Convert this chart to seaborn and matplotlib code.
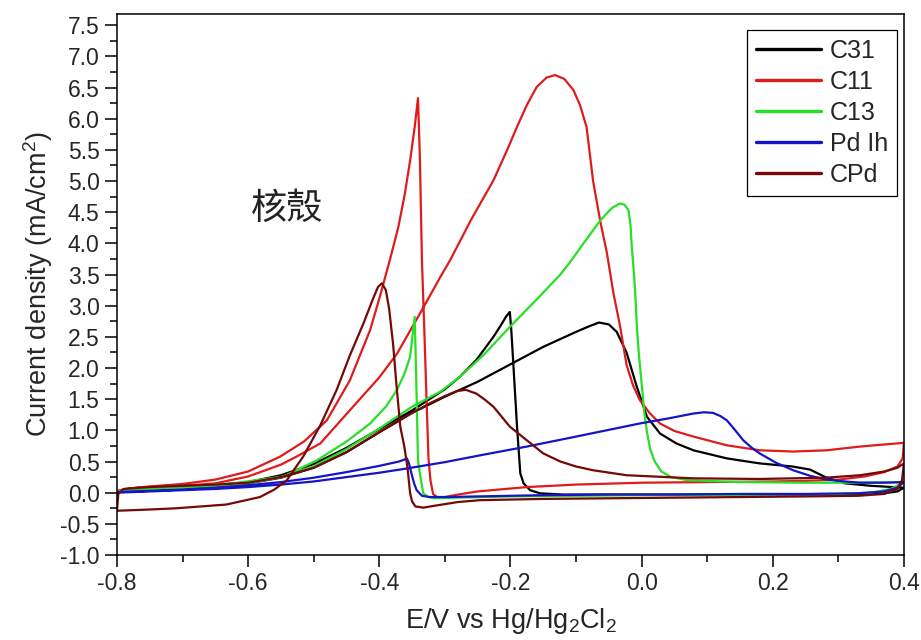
import numpy as np
import pandas as pd
import matplotlib
matplotlib.use('Agg')
import matplotlib.pyplot as plt
import seaborn as sns
from matplotlib.ticker import MultipleLocator, FormatStrFormatter

# CV loops: forward scan (-0.8 -> 0.4) then reverse (0.4 -> -0.8)
samples = ['C31', 'C11', 'C13', 'Pd Ih', 'CPd']
colors = ['#000000', '#e01b1b', '#26e026', '#1414c8', '#760808']

c31_E = [-0.800, -0.795, -0.75, -0.70, -0.65, -0.60, -0.55, -0.50, -0.45, -0.40, -0.35, -0.30, -0.25, -0.20,
         -0.15, -0.10, -0.08, -0.065, -0.05, -0.038, -0.023, -0.008, 0.008, 0.028, 0.053, 0.079, 0.13, 0.18,
         0.23, 0.257, 0.28, 0.31, 0.35, 0.40,
         0.39, 0.37, 0.33, 0.25, 0.15, 0.05, -0.05, -0.12, -0.155, -0.170, -0.180, -0.185, -0.190, -0.196,
         -0.199, -0.201, -0.207, -0.215, -0.226, -0.24, -0.252, -0.277, -0.30, -0.35, -0.40, -0.45, -0.50,
         -0.55, -0.60, -0.65, -0.70, -0.75, -0.80]
c31_j = [-0.02, 0.03, 0.06, 0.08, 0.11, 0.15, 0.24, 0.40, 0.65, 0.97, 1.28, 1.54, 1.78, 2.06,
         2.34, 2.58, 2.67, 2.73, 2.70, 2.58, 2.25, 1.72, 1.22, 0.95, 0.79, 0.68, 0.55, 0.47,
         0.42, 0.37, 0.25, 0.15, 0.11, 0.08,
         0.02, -0.01, -0.02, -0.03, -0.03, -0.03, -0.03, -0.03, -0.01, 0.04, 0.15, 0.31, 1.06, 2.13,
         2.65, 2.90, 2.82, 2.68, 2.50, 2.30, 2.13, 1.86, 1.66, 1.32, 1.02, 0.72, 0.46,
         0.28, 0.17, 0.12, 0.09, 0.06, 0.03]

c11_E = [-0.800, -0.795, -0.78, -0.75, -0.70, -0.65, -0.60, -0.55, -0.526, -0.49, -0.44, -0.40, -0.373,
         -0.335, -0.307, -0.292, -0.26, -0.226, -0.205, -0.19, -0.175, -0.16, -0.145, -0.132, -0.118,
         -0.104, -0.094, -0.084, -0.074, -0.063, -0.053, -0.043, -0.033, -0.023, -0.013, -0.003, 0.012,
         0.028, 0.05, 0.079, 0.13, 0.18, 0.231, 0.282, 0.333, 0.40,
         0.398, 0.39, 0.37, 0.34, 0.30, 0.25, 0.20, 0.10, 0.00, -0.10, -0.175, -0.25, -0.28, -0.30, -0.312,
         -0.318, -0.322, -0.325, -0.328, -0.331, -0.335, -0.338, -0.341, -0.346, -0.353, -0.361, -0.371,
         -0.384, -0.399, -0.414, -0.445, -0.48, -0.515, -0.551, -0.60, -0.65, -0.70, -0.75, -0.78, -0.80]
c11_j = [-0.03, 0.04, 0.07, 0.09, 0.11, 0.15, 0.26, 0.45, 0.58, 0.79, 1.38, 1.85, 2.23,
         2.93, 3.46, 3.73, 4.38, 5.01, 5.50, 5.87, 6.22, 6.51, 6.66, 6.70, 6.64,
         6.46, 6.22, 5.87, 5.00, 4.35, 3.85, 3.20, 2.68, 2.05, 1.72, 1.49, 1.28,
         1.11, 0.99, 0.90, 0.76, 0.68, 0.66, 0.68, 0.74, 0.80,
         0.55, 0.42, 0.33, 0.26, 0.21, 0.19, 0.18, 0.17, 0.16, 0.13, 0.09, 0.02, -0.03, -0.07, -0.07,
         -0.02, 0.20, 0.55, 1.50, 2.50, 3.73, 5.33, 6.33, 5.87, 5.33, 4.80, 4.26,
         3.73, 3.15, 2.61, 1.80, 1.16, 0.82, 0.58, 0.34, 0.21, 0.14, 0.10, 0.07, 0.02]

c13_E = [-0.800, -0.795, -0.75, -0.70, -0.65, -0.60, -0.55, -0.50, -0.45, -0.40, -0.35, -0.307, -0.277,
         -0.24, -0.201, -0.16, -0.124, -0.109, -0.09, -0.063, -0.045, -0.033, -0.026, -0.020, -0.017,
         -0.015, -0.012, -0.010, -0.007, -0.004, 0.000, 0.004, 0.008, 0.013, 0.020, 0.030, 0.045, 0.07,
         0.15, 0.25, 0.32, 0.40,
         0.38, 0.35, 0.30, 0.20, 0.10, 0.00, -0.10, -0.20, -0.28, -0.315, -0.325, -0.333, -0.338, -0.341,
         -0.343, -0.345, -0.346, -0.349, -0.353, -0.362, -0.373, -0.39, -0.414, -0.45, -0.495, -0.546,
         -0.623, -0.70, -0.75, -0.80]
c13_j = [-0.01, 0.03, 0.06, 0.08, 0.11, 0.15, 0.25, 0.42, 0.70, 1.03, 1.38, 1.62, 1.86,
         2.22, 2.66, 3.10, 3.50, 3.70, 3.98, 4.37, 4.57, 4.64, 4.62, 4.53, 4.30,
         3.94, 3.55, 3.25, 2.61, 2.20, 1.75, 1.30, 0.98, 0.70, 0.50, 0.34, 0.25, 0.20,
         0.17, 0.16, 0.16, 0.17,
         0.06, 0.00, -0.02, -0.03, -0.04, -0.04, -0.05, -0.06, -0.08, -0.09, -0.07, -0.01, 0.30, 0.52,
         1.50, 2.40, 2.82, 2.55, 2.18, 1.90, 1.65, 1.38, 1.11, 0.82, 0.52, 0.26,
         0.15, 0.09, 0.06, 0.02]

pdih_E = [-0.800, -0.75, -0.70, -0.65, -0.60, -0.55, -0.50, -0.45, -0.40, -0.363, -0.30, -0.246, -0.175,
          -0.10, -0.003, 0.04, 0.079, 0.095, 0.109, 0.12, 0.130, 0.142, 0.155, 0.168, 0.180, 0.205, 0.231,
          0.257, 0.282, 0.31, 0.333, 0.37, 0.40,
          0.39, 0.37, 0.33, 0.25, 0.15, 0.05, -0.05, -0.15, -0.25, -0.30, -0.323, -0.335, -0.343, -0.347,
          -0.351, -0.355, -0.358, -0.362, -0.37, -0.40, -0.45, -0.50, -0.55, -0.60, -0.65, -0.70, -0.75, -0.80]
pdih_j = [0.00, 0.02, 0.04, 0.06, 0.09, 0.13, 0.18, 0.25, 0.32, 0.38, 0.49, 0.60, 0.74,
          0.90, 1.11, 1.19, 1.27, 1.29, 1.28, 1.23, 1.16, 1.01, 0.84, 0.72, 0.63, 0.48, 0.36,
          0.27, 0.21, 0.18, 0.16, 0.16, 0.17,
          0.08, 0.02, -0.01, -0.02, -0.02, -0.03, -0.03, -0.04, -0.06, -0.07, -0.07, -0.05, 0.04, 0.15,
          0.31, 0.48, 0.55, 0.53, 0.50, 0.43, 0.33, 0.24, 0.17, 0.12, 0.08, 0.05, 0.03, 0.01]

cpd_E = [-0.800, -0.798, -0.79, -0.75, -0.70, -0.65, -0.60, -0.55, -0.50, -0.45, -0.40, -0.35, -0.32, -0.30,
         -0.282, -0.268, -0.252, -0.240, -0.226, -0.201, -0.175, -0.150, -0.124, -0.10, -0.074, -0.023, 0.079,
         0.18, 0.28, 0.333, 0.37, 0.39, 0.40,
         0.397, 0.39, 0.37, 0.33, 0.25, 0.15, 0.05, -0.05, -0.15, -0.246, -0.28, -0.31, -0.333, -0.345,
         -0.350, -0.353, -0.357, -0.362, -0.368, -0.374, -0.379, -0.385, -0.390, -0.396, -0.402, -0.410,
         -0.424, -0.445, -0.465, -0.49, -0.516, -0.541, -0.56, -0.582, -0.633, -0.709, -0.75, -0.80]
cpd_j = [-0.29, -0.02, 0.06, 0.09, 0.11, 0.13, 0.16, 0.25, 0.40, 0.65, 0.97, 1.28, 1.45, 1.55,
         1.63, 1.65, 1.59, 1.50, 1.38, 1.06, 0.84, 0.63, 0.50, 0.42, 0.36, 0.28, 0.23,
         0.22, 0.24, 0.28, 0.34, 0.40, 0.47,
         0.20, 0.06, -0.02, -0.05, -0.06, -0.07, -0.08, -0.09, -0.10, -0.12, -0.15, -0.20, -0.24, -0.22,
         -0.14, -0.01, 0.40, 0.75, 1.06, 1.75, 2.39, 2.95, 3.25, 3.36, 3.30, 3.10,
         2.72, 2.20, 1.65, 1.08, 0.58, 0.20, 0.05, -0.07, -0.19, -0.25, -0.27, -0.29]

loops_E = [c31_E, c11_E, c13_E, pdih_E, cpd_E]
loops_j = [c31_j, c11_j, c13_j, pdih_j, cpd_j]

frames = []
for name, E, j in zip(samples, loops_E, loops_j):
    frames.append(pd.DataFrame({'E': E, 'j': j, 'sample': name}))
df = pd.concat(frames, ignore_index=True)

sns.set_style('ticks')
plt.rcParams['font.family'] = ['Liberation Sans', 'Noto Sans CJK TC', 'DejaVu Sans']
plt.rcParams['mathtext.fontset'] = 'custom'
plt.rcParams['mathtext.rm'] = 'Liberation Sans'
plt.rcParams['mathtext.it'] = 'Liberation Sans'

fig = plt.figure(figsize=(9.21, 6.4), dpi=100)
ax = fig.add_axes([0.127, 0.1328, 0.8545, 0.8453])

sns.lineplot(data=df, x='E', y='j', hue='sample', hue_order=samples,
             palette=dict(zip(samples, colors)), sort=False, estimator=None,
             linewidth=1.6, ax=ax)

ax.set_xlim(-0.8, 0.4)
ax.set_ylim(-1.0, 7.68)
ax.xaxis.set_major_locator(MultipleLocator(0.2))
ax.xaxis.set_minor_locator(MultipleLocator(0.1))
ax.yaxis.set_major_locator(MultipleLocator(0.5))
ax.yaxis.set_minor_locator(MultipleLocator(0.25))
ax.xaxis.set_major_formatter(FormatStrFormatter('%.1f'))
ax.yaxis.set_major_formatter(FormatStrFormatter('%.1f'))
ax.tick_params(which='major', direction='out', length=8.5, width=1.1, labelsize=16.5, pad=4, color='black')
ax.tick_params(which='minor', direction='out', length=5, width=1.1, color='black')
ax.tick_params(top=False, right=False, which='both')
for sp in ax.spines.values():
    sp.set_visible(True)
    sp.set_linewidth(1.1)
    sp.set_color('black')

ax.set_xlabel('E/V vs Hg/Hg$_2$Cl$_2$', fontsize=19.5, labelpad=8)
ax.set_ylabel('Current density (mA/cm$^2$)', fontsize=19.5, labelpad=4)

ax.text(-0.541, 4.56, '核殼', fontsize=26, ha='center', va='center',
        family=['Noto Sans CJK TC'], color='#222222')

old = ax.get_legend()
handles = old.legend_handles
labels = [t.get_text() for t in old.get_texts()]
leg = ax.legend(handles, labels, loc='upper right', bbox_to_anchor=(0.9911, 0.9704),
                borderaxespad=0, frameon=True, fancybox=False, shadow=False,
                fontsize=18, handlelength=2.6, handletextpad=0.35, labelspacing=0.28,
                borderpad=0.35, edgecolor='black', framealpha=1)
leg.get_frame().set_linewidth(0.9)
for h in leg.legend_handles:
    h.set_linewidth(2.4)

fig.savefig('out.png', dpi=100)
